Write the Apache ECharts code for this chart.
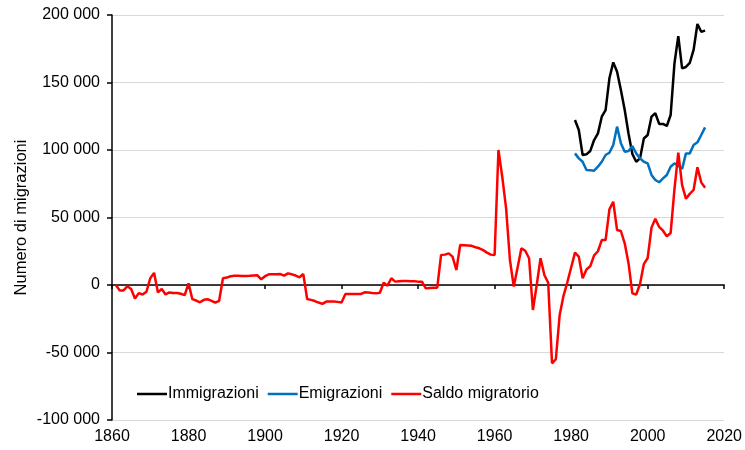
<!DOCTYPE html>
<html>
<head>
<meta charset="utf-8">
<script src="https://cdn.jsdelivr.net/npm/echarts@6/dist/echarts.min.js"></script>
<style>
  html, body { margin: 0; padding: 0; background: #fff; }
  #chart { width: 745px; height: 450px; }
</style>
</head>
<body>
<div id="chart"></div>
<script>
var dom = document.getElementById("chart");
var myChart = echarts.init(dom);

// saldo migratorio, annual values 1861-2015
var saldoStart = 1861;
var saldo = [
    0, -4000, -4000, -1000, -3000, -10000, -6000, -7000, -5000, 5000,
    9000, -5500, -3000, -7000, -5500, -6000, -6000, -6500, -7500, 1200,
    -10500, -11500, -12800, -11000, -10500, -11700, -13000, -11700, 5000, 5500,
    6500, 6900, 6800, 6700, 6700, 6800, 7000, 7200, 4200, 6500,
    7900, 8000, 8000, 8100, 6900, 8600, 7900, 7000, 5700, 8100,
    -10400, -11000, -11900, -13000, -14000, -12300, -12300, -12300, -12500, -13000,
    -6700, -6700, -6700, -6700, -6700, -5400, -5600, -6000, -6200, -5700,
    1700, -500, 5000, 2500, 2800, 3000, 3000, 2800, 2700, 2500,
    2500, -2500, -2200, -2000, -2000, 22200, 22500, 23400, 21000, 11100,
    29600, 29500, 29300, 29000, 28000, 27200, 25800, 24000, 22500, 22200,
    100000, 80000, 56800, 18500, -1200, 13000, 27200, 25400, 19800, -18500,
    0, 19800, 7400, 1700, -58000, -55000, -22200, -8000, 2000, 13000,
    24000, 21000, 5000, 11500, 14000, 22000, 25000, 33300, 33300, 56000,
    61700, 40700, 40000, 30900, 16000, -6200, -7000, 700, 15500, 20000,
    42500, 49000, 43000, 40200, 36000, 38500, 71000, 98000, 74000, 64000,
    67500, 70400, 87200, 76000, 72000
];

// immigrazioni / emigrazioni, annual values 1981-2015
var flowStart = 1981;
var immigrazioni = [
    122200, 114800, 96300, 96800, 99300, 107400, 112300, 124700, 129600, 153100,
    164900, 158000, 144400, 129600, 112000, 97000, 91300, 93800, 108500, 111100,
    124700, 127200, 119300, 119300, 117800, 125900, 164200, 184400, 160500, 161500,
    164500, 174100, 193300, 187600, 188400
];
var emigrazioni = [
    97500, 93800, 91300, 85200, 85000, 84700, 87600, 91300, 96300, 98000,
    103700, 117300, 105000, 98700, 99300, 103000, 97500, 93800, 91300, 90100,
    81500, 77800, 76100, 79000, 81500, 87600, 90100, 88500, 86000, 97500,
    97500, 103700, 105700, 111100, 116800
];

function pairs(start, values) {
    return values.map(function (v, i) { return [start + i, v]; });
}

// thousands separated by a space: 200 000, -50 000
function fmt(v) {
    var s = String(Math.abs(v)).replace(/\B(?=(\d{3})+(?!\d))/g, " ");
    return (v < 0 ? "-" : "") + s;
}

var font = "Liberation Sans, Arial, sans-serif";

option = {
    animation: false,
    textStyle: { fontFamily: font },
    grid: { left: 112, right: 20, top: 15, bottom: 30 },
    legend: {
        left: 137,
        top: 386,
        padding: 0,
        icon: "rect",
        itemWidth: 30,
        itemHeight: 2.5,
        itemGap: 9,
        textStyle: { fontSize: 16, color: "#000", fontFamily: font, padding: [0, 0, 0, -4] },
        data: ["Immigrazioni", "Emigrazioni", "Saldo migratorio"]
    },
    xAxis: [
        {
            type: "value",
            min: 1860,
            max: 2020,
            interval: 20,
            axisLine: { show: false, onZero: false },
            axisTick: { show: false },
            splitLine: { show: false },
            axisLabel: {
                fontSize: 16, color: "#000", margin: 9,
                formatter: function (v) { return String(v); }
            }
        },
        {
            type: "value",
            position: "bottom",
            min: 1860,
            max: 2020,
            interval: 20,
            axisLine: { show: true, onZero: true, lineStyle: { color: "#000", width: 1.5 } },
            axisTick: { show: true, length: 4, lineStyle: { color: "#000", width: 1.5 } },
            axisLabel: { show: false },
            splitLine: { show: false }
        }
    ],
    yAxis: {
        type: "value",
        min: -100000,
        max: 200000,
        interval: 50000,
        name: "Numero di migrazioni",
        nameLocation: "middle",
        nameGap: 82,
        nameMoveOverlap: false,
        nameTextStyle: { fontSize: 16.5, color: "#000" },
        axisLine: { show: true, lineStyle: { color: "#000", width: 1.5 } },
        axisTick: { show: true, length: 5, lineStyle: { color: "#000", width: 1.5 } },
        axisLabel: { fontSize: 16, color: "#000", margin: 12, formatter: fmt },
        splitLine: { show: true, lineStyle: { color: "#d9d9d9", width: 1 } }
    },
    series: [
        {
            name: "Immigrazioni",
            type: "line",
            symbol: "none",
            data: pairs(flowStart, immigrazioni),
            lineStyle: { color: "#000", width: 2.5 },
            itemStyle: { color: "#000" }
        },
        {
            name: "Emigrazioni",
            type: "line",
            symbol: "none",
            data: pairs(flowStart, emigrazioni),
            lineStyle: { color: "#0070c0", width: 2.5 },
            itemStyle: { color: "#0070c0" }
        },
        {
            name: "Saldo migratorio",
            type: "line",
            symbol: "none",
            data: pairs(saldoStart, saldo),
            lineStyle: { color: "#ff0000", width: 2.5 },
            itemStyle: { color: "#ff0000" }
        }
    ]
};

if (option && typeof option === "object") {
    myChart.setOption(option, true);
}
</script>
</body>
</html>
